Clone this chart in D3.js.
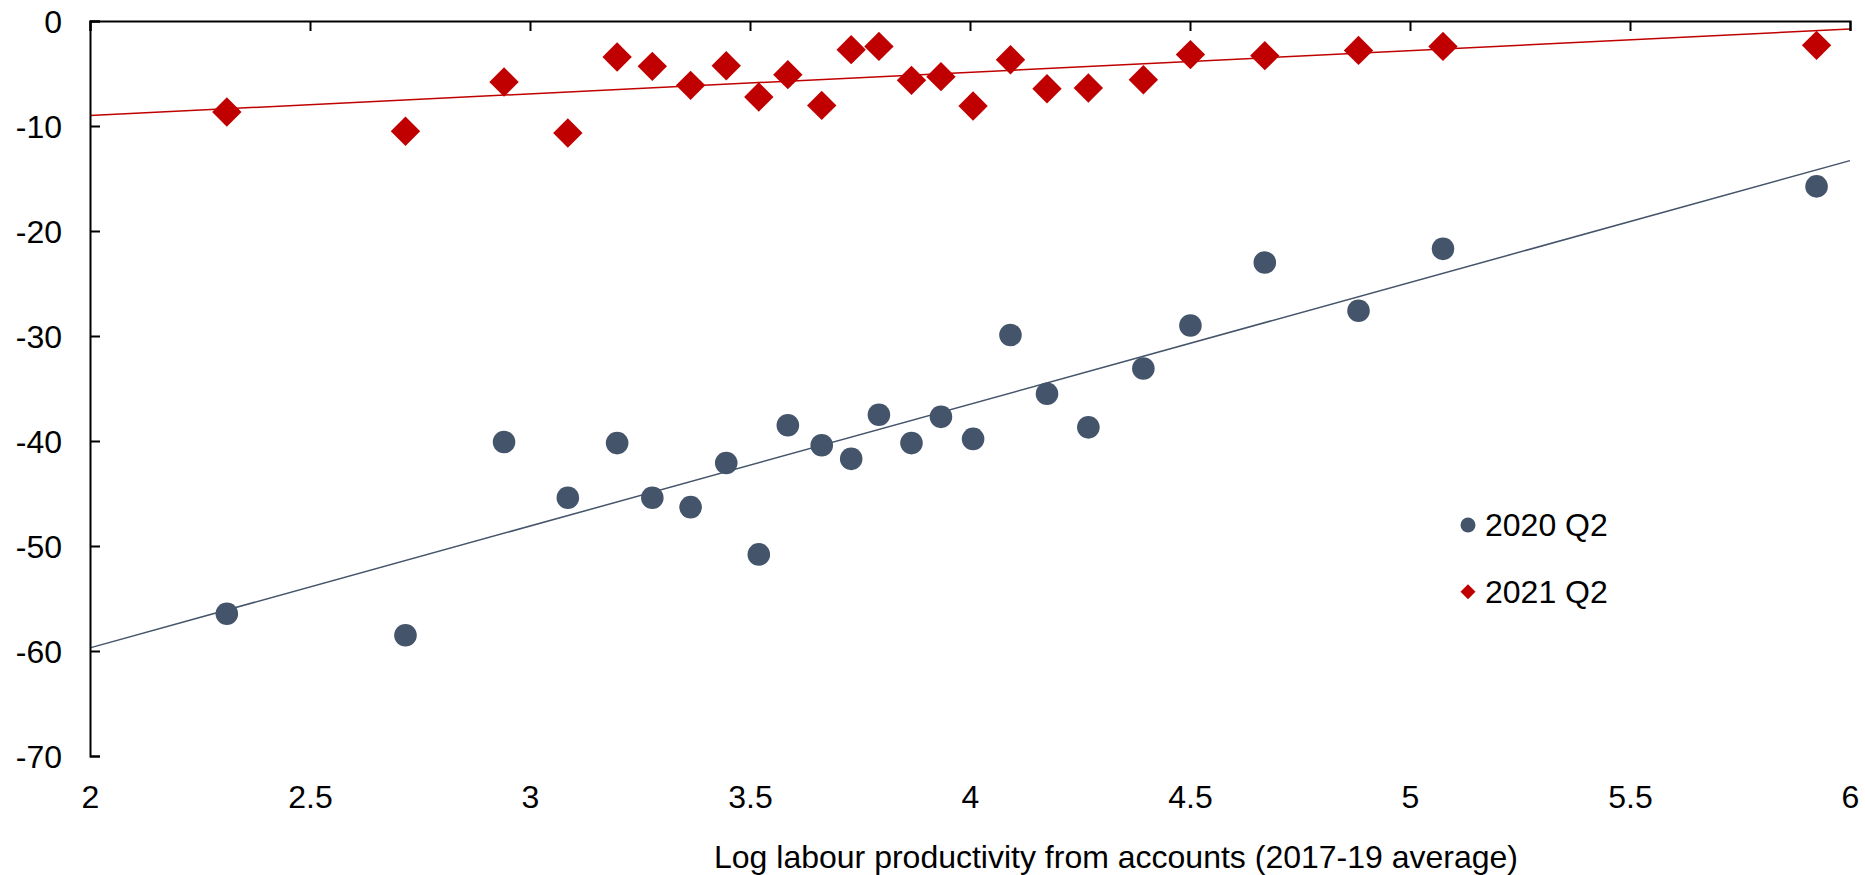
<!DOCTYPE html>
<html>
<head>
<meta charset="utf-8">
<script src="https://cdn.jsdelivr.net/npm/d3@7"></script>
<style>
  html, body { margin: 0; padding: 0; background: #fff; }
  svg { display: block; font-family: "Liberation Sans", Arial, sans-serif; }
</style>
</head>
<body>
<svg id="chart" width="1865" height="875"></svg>
<script>
// ---- data ----
const seriesNames = ["2020 Q2", "2021 Q2"];
const productivity = [2.311, 2.717, 2.941, 3.086, 3.198, 3.278, 3.365, 3.446, 3.520, 3.586,
                      3.663, 3.730, 3.793, 3.867, 3.934, 4.007, 4.092, 4.175, 4.269, 4.394,
                      4.501, 4.670, 4.883, 5.075, 5.924];
const change2020 = [-56.45, -58.5, -40.1, -45.4, -40.2, -45.4, -46.3, -42.1, -50.8, -38.5,
                    -40.4, -41.7, -37.5, -40.2, -37.7, -39.8, -29.9, -35.5, -38.7, -33.1,
                    -29.0, -23.0, -27.6, -21.7, -15.75];
const change2021 = [-8.67, -10.5, -5.81, -10.67, -3.43, -4.32, -6.13, -4.26, -7.24, -5.11,
                    -8.04, -2.73, -2.42, -5.65, -5.30, -8.10, -3.69, -6.45, -6.38, -5.6,
                    -3.2, -3.3, -2.8, -2.42, -2.32];
// trend lines (end points)
const trendX = [2, 6];
const trend2020 = [-59.7, -13.3];
const trend2021 = [-9.0, -0.76];
const xTicks = [2, 2.5, 3, 3.5, 4, 4.5, 5, 5.5, 6];
const yTicks = [0, -10, -20, -30, -40, -50, -60, -70];
const xTitle = "Log labour productivity from accounts (2017-19 average)";

// ---- styling ----
const colors = ["#44546a", "#c00000"];
const fontSize = 32;

const svg = d3.select("#chart");
const x = d3.scaleLinear().domain([2, 6]).range([90, 1850]);
const y = d3.scaleLinear().domain([0, -70]).range([21, 756]);

// trend lines
const line = d3.line().x(d => x(d[0])).y(d => y(d[1]));
[trend2020, trend2021].forEach((t, i) => {
  svg.append("path")
    .datum(trendX.map((xv, j) => [xv, t[j]]))
    .attr("d", line)
    .attr("fill", "none")
    .attr("stroke", colors[i])
    .attr("stroke-width", 1.5);
});

// x axis line at y=0 with ticks pointing down
const xAxisG = svg.append("g")
  .attr("transform", `translate(0,${y(0)})`)
  .call(d3.axisBottom(x).tickValues(xTicks).tickSizeInner(10).tickSizeOuter(10).tickFormat(() => ""));
xAxisG.selectAll("path, line").attr("stroke", "#000").attr("stroke-width", 2);

// x tick labels at the bottom
const xLab = svg.append("g")
  .attr("transform", `translate(0,${y(-70) + 29})`)
  .call(d3.axisBottom(x).tickValues(xTicks).tickSize(0).tickPadding(0).tickFormat(d => String(d)));
xLab.select(".domain").remove();
xLab.selectAll("text").attr("font-size", fontSize).attr("fill", "#000")
  .attr("font-family", "Liberation Sans, Arial, sans-serif");

// y axis with ticks pointing right
const yAxisG = svg.append("g")
  .attr("transform", `translate(${x(2)},0)`)
  .call(d3.axisLeft(y).tickValues(yTicks).tickSizeInner(-10).tickSizeOuter(-10).tickPadding(28)
        .tickFormat(d => String(d)));
yAxisG.selectAll("path, line").attr("stroke", "#000").attr("stroke-width", 2);
yAxisG.selectAll("text").attr("font-size", fontSize).attr("fill", "#000").attr("dy", "0.35em")
  .attr("font-family", "Liberation Sans, Arial, sans-serif");

// points
svg.append("g").selectAll("circle")
  .data(productivity.map((p, i) => [p, change2020[i]]))
  .join("circle")
  .attr("cx", d => x(d[0])).attr("cy", d => y(d[1]))
  .attr("r", 11.3).attr("fill", colors[0]);

const diamond = d3.symbol().type(d3.symbolSquare).size(432);
svg.append("g").selectAll("path")
  .data(productivity.map((p, i) => [p, change2021[i]]))
  .join("path")
  .attr("d", diamond)
  .attr("transform", d => `translate(${x(d[0])},${y(d[1])}) rotate(45)`)
  .attr("fill", colors[1]);

// axis title
svg.append("text")
  .attr("x", 1116).attr("y", 868)
  .attr("text-anchor", "middle")
  .attr("font-size", fontSize).attr("fill", "#000")
  .text(xTitle);

// legend
const legend = svg.append("g");
const legendMarkX = 1468, legendY0 = 525, legendStep = 66.7;
legend.append("circle").attr("cx", legendMarkX).attr("cy", legendY0).attr("r", 7.5).attr("fill", colors[0]);
legend.append("path")
  .attr("d", d3.symbol().type(d3.symbolSquare).size(112))
  .attr("transform", `translate(${legendMarkX},${legendY0 + legendStep}) rotate(45)`)
  .attr("fill", colors[1]);
seriesNames.forEach((n, i) => {
  legend.append("text")
    .attr("x", legendMarkX + 17).attr("y", legendY0 + i * legendStep + 11.3)
    .attr("font-size", fontSize).attr("fill", "#000")
    .text(n);
});
</script>
</body>
</html>
